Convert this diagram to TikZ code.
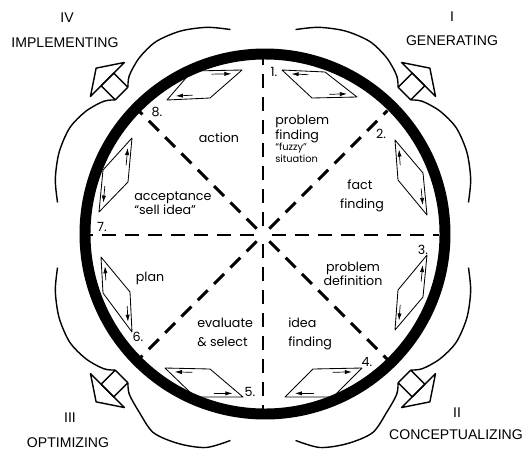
\documentclass[tikz,border=0pt]{standalone}
\usepackage{fontspec}
\usetikzlibrary{arrows.meta,calc}
\newfontfamily\handfont{Poppins}
\newfontfamily\stagefont{Liberation Sans}

\begin{document}
\begin{tikzpicture}[x=0.025cm,y=0.025cm,
        spoke/.style={line width=2.1pt,dash pattern=on 10pt off 6.4pt},
        wheel/.style={line width=7.8pt},
        band/.style={line width=1pt,line join=round},
        cell/.style={line width=0.6pt,line join=round},
        flow/.style={line width=0.5pt,-{Latex[length=5pt,width=3pt]}},
        hand/.style={font=\handfont\fontsize{9}{11}\selectfont,inner sep=0pt},
        small/.style={font=\handfont\fontsize{7}{8}\selectfont,inner sep=0pt},
        stage/.style={font=\stagefont\fontsize{10}{12}\selectfont,inner sep=0pt}]
    \useasboundingbox (-263,-215) rectangle (262,235);
    \foreach \a in {0,45,...,315}
        \draw[spoke] (\a:9) -- (\a:176);
    \draw[wheel] (2,1) circle (180);
    \foreach \m/\cc/\cw in {45/0/0,-45/0/5,-135/5/0,135/0/0} {
        \begin{scope}[rotate=\m]
            \draw[band] plot[smooth] coordinates {(36:208) (30:{215+\cc}) (23:{220+\cc}) (16:{221+\cc}) (10:216) (5:208) (200,9)};
            \draw[band] plot[smooth] coordinates {(-36:208) (-30:{215+\cw}) (-23:{220+\cw}) (-16:{221+\cw}) (-10:216) (-5:208) (200,-9)};
            \draw[band] (200,-9) -- (220,-9) -- (220,9) -- (200,9) -- cycle;
            \draw[band] (220,-24) -- (236,0) -- (220,24) -- cycle;
        \end{scope}
    }
    \foreach \ax/\ay/\bx/\by/\cx/\cy/\dx/\dy in {
            19/165/62/163/94/138/49/137,
            132/95/135/55/164/20/160/62,
            164/-20/160/-62/132/-95/135/-55,
            99/-133/50/-134/22/-162/70/-162,
            -98/-133/-53/-134/-20/-162/-68/-162,
            -162/-22/-160/-58/-131/-97/-133/-57,
            -131/97/-135/53/-164/23/-160/65,
            -96/135/-53/137/-21/165/-71/164} {
        \coordinate (A) at (\ax,\ay);
        \coordinate (B) at (\bx,\by);
        \coordinate (C) at (\cx,\cy);
        \coordinate (D) at (\dx,\dy);
        \draw[cell] (A) -- (B) -- (C) -- (D) -- cycle;
        \draw[flow] ($(A)!0.6!(B)!0.13!(D)$) -- ($(A)!0.15!(B)!0.13!(D)$);
        \draw[flow] ($(C)!0.6!(D)!0.13!(B)$) -- ($(C)!0.15!(D)!0.13!(B)$);
    }
    \foreach \k/\x/\y in {1/11/163,2/118/101,3/160/-15,4/104/-127,5/-13/-157,6/-125/-102,7/-161/8,8/-106/123}
        \node[hand] (num\k) at (\x,\y) {\k.};
    \node[hand,anchor=base west] (prob) at (12,111) {problem};
    \node[hand,anchor=base west] (find) at (12,96) {finding};
    \node[small,anchor=base west] (fuzzy) at (12,85) {“fuzzy”};
    \node[small,anchor=base west] (situ) at (12,73) {situation};
    \node[hand,anchor=base] (fact) at (97,46) {fact};
    \node[hand,anchor=base] (factf) at (99,27) {finding};
    \node[hand,anchor=base] (defa) at (90,-36) {problem};
    \node[hand,anchor=base] (defb) at (90,-50) {definition};
    \node[hand,anchor=base west] (idea) at (25,-92) {idea};
    \node[hand,anchor=base west] (ideaf) at (25,-111) {finding};
    \node[hand,anchor=base west] (eval) at (-66,-92) {evaluate};
    \node[hand,anchor=base west] (sel) at (-66,-111) {\& select};
    \node[hand,anchor=base] (plan) at (-113,-46) {plan};
    \node[hand,anchor=base west] (acc) at (-129,35) {acceptance};
    \node[hand,anchor=base west] (sell) at (-129,21) {“sell idea”};
    \node[hand,anchor=base] (act) at (-44,93) {action};
    \node[stage] (q1) at (189,218) {I};
    \node[stage] (q1t) at (189,194) {GENERATING};
    \node[stage] (q2) at (194,-178) {II};
    \node[stage] (q2t) at (193,-200) {CONCEPTUALIZING};
    \node[stage] (q3) at (-193,-183) {III};
    \node[stage] (q3t) at (-195,-208) {OPTIMIZING};
    \node[stage] (q4) at (-196,217) {IV};
    \node[stage] (q4t) at (-198,192) {IMPLEMENTING};
\end{tikzpicture}
\end{document}
